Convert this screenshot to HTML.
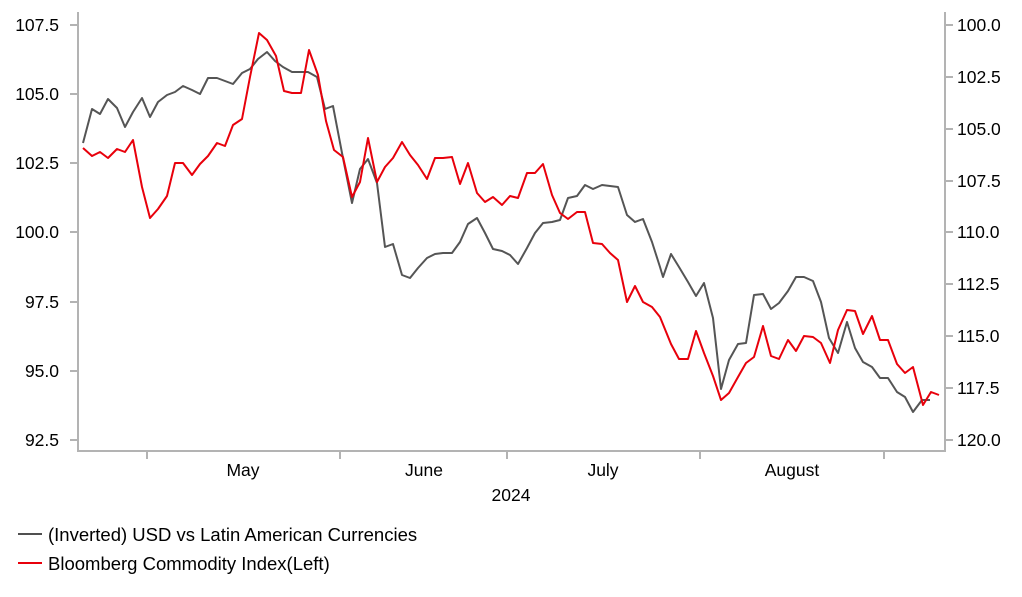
<!DOCTYPE html>
<html><head><meta charset="utf-8"><style>
body{margin:0;background:#fff;}
svg{display:block;font-family:"Liberation Sans",Arial,sans-serif;}
</style></head><body>
<svg width="1022" height="597" viewBox="0 0 1022 597">
<g stroke="#b3b3b3" stroke-width="2" fill="none">
<path d="M78 12V451H945V12"/>
<path d="M70 25H78M70 94H78M70 163H78M70 232H78M70 302H78M70 371H78M70 440H78"/>
<path d="M945 25H953M945 77H953M945 129H953M945 181H953M945 232H953M945 284H953M945 336H953M945 388H953M945 440H953"/>
<path d="M147 451V459M340 451V459M507 451V459M700 451V459M884 451V459"/>
</g>
<g font-size="17.5" fill="#000">
<g text-anchor="end">
<text x="59" y="31">107.5</text><text x="59" y="100">105.0</text><text x="59" y="169">102.5</text><text x="59" y="238">100.0</text><text x="59" y="308">97.5</text><text x="59" y="377">95.0</text><text x="59" y="446">92.5</text>
</g>
<g text-anchor="start">
<text x="957" y="31">100.0</text><text x="957" y="83">102.5</text><text x="957" y="135">105.0</text><text x="957" y="187">107.5</text><text x="957" y="238">110.0</text><text x="957" y="290">112.5</text><text x="957" y="342">115.0</text><text x="957" y="394">117.5</text><text x="957" y="446">120.0</text>
</g>
<g text-anchor="middle">
<text x="243" y="476">May</text><text x="424" y="476">June</text><text x="603" y="476">July</text><text x="792" y="476">August</text><text x="511" y="501">2024</text>
</g>
</g>
<g font-size="18.5" fill="#000">
<text x="48" y="541">(Inverted) USD vs Latin American Currencies</text>
<text x="48" y="570">Bloomberg Commodity Index(Left)</text>
</g>
<path d="M18 534H42" stroke="#505050" stroke-width="2"/>
<path d="M18 563H42" stroke="#e8000b" stroke-width="2"/>
<polyline fill="none" stroke="#555" stroke-width="2" stroke-linejoin="round" points="83,143 92,109 100,114 108,99 117,108 125,127 133,112 142,98 150,117 158,102 167,95 175,92 183,86 192,90 200,94 208,78 217,78 225,81 233,84 242,73 250,69 258,59 267,52 275,61 283,67 292,72 300,72 308,72 317,77 325,109 333,106 342,153 352,203 360,169 368,159 377,183 385,247 393,244 402,275 410,278 418,268 427,258 435,254 443,253 452,253 460,242 468,224 477,218 485,233 493,249 502,251 510,255 518,264 527,248 535,233 543,223 552,222 560,220 568,198 577,196 585,185 593,189 602,185 610,186 618,187 627,215 635,222 643,219 652,242 660,267 663,277 671,254 679,267 688,282 696,296 704,283 713,318 721,389 729,360 738,344 746,343 754,295 763,294 771,309 779,303 788,291 796,277 804,277 813,281 821,302 829,338 838,353 847,322 855,348 863,362 872,367 880,378 888,378 897,392 905,397 913,412 922,400 930,400"/>
<polyline fill="none" stroke="#e8000b" stroke-width="2" stroke-linejoin="round" points="83,148 92,156 100,152 108,158 117,149 125,152 133,140 142,187 150,218 158,209 167,196 175,163 183,163 192,175 200,164 208,156 217,143 225,146 233,125 242,119 250,77 259,33 267,40 276,56 284,91 292,93 301,93 309,50 318,75 326,121 334,150 343,157 352,197 360,182 368,138 377,182 385,167 393,158 402,142 410,155 418,165 427,179 435,158 443,158 452,157 460,184 468,163 477,193 485,202 493,197 502,205 510,196 518,198 527,173 535,173 543,164 552,195 560,213 568,219 577,212 585,212 593,243 602,244 610,253 618,260 627,302 635,286 643,302 652,307 660,317 671,344 679,359 688,359 696,331 704,353 713,376 721,400 729,393 738,377 746,363 754,357 763,326 771,356 779,359 788,340 796,351 804,336 813,337 821,343 830,363 838,330 847,310 855,311 863,334 872,316 880,340 888,340 897,364 905,373 913,367 923,405 931,392 939,395"/>
</svg>
</body></html>
